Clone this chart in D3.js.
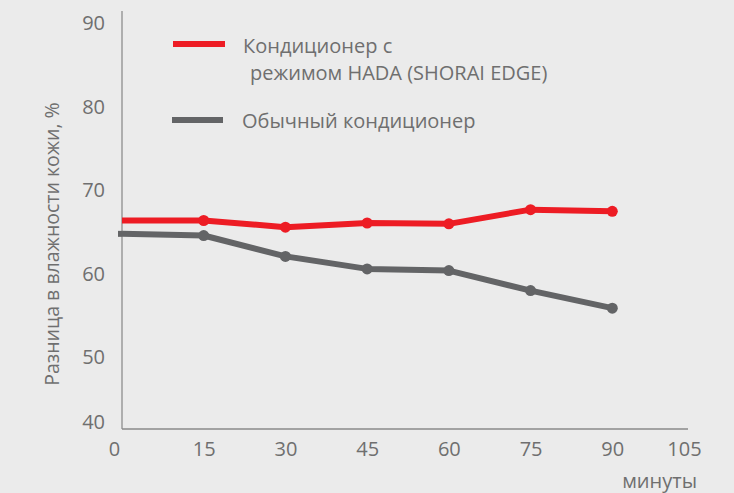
<!DOCTYPE html>
<html>
<head>
<meta charset="utf-8">
<script src="https://cdn.jsdelivr.net/npm/d3@7"></script>
<style>
  body { margin: 0; background: #ebebeb; }
  text { font-family: "Open Sans", sans-serif; fill: #6f6f6f; }
</style>
</head>
<body>
<div id="chart"></div>
<script>
var minutes = [0, 15, 30, 45, 60, 75, 90];
var hadaValues = [66.3, 66.3, 65.5, 66.0, 65.9, 67.6, 67.4];
var usualValues = [64.7, 64.5, 62.0, 60.5, 60.3, 57.9, 55.8];
var xTicks = [0, 15, 30, 45, 60, 75, 90, 105];
var yTicks = [40, 50, 60, 70, 80, 90];
var seriesNames = ["Кондиционер с", "режимом HADA (SHORAI EDGE)", "Обычный кондиционер"];

var width = 734,
  height = 493;

var svg = d3.select("#chart").append("svg")
  .attr("width", width)
  .attr("height", height);

var x = d3.scaleLinear().domain([0, 105]).range([122, 694]);
var y = d3.scaleLinear().domain([40, 90]).range([440, 22.7]);

// axes (no tick marks, just labels)
var yAxis = svg.append("g")
  .attr("transform", "translate(122,0)")
  .call(d3.axisLeft(y).tickValues(yTicks).tickSize(0).tickPadding(17));
yAxis.select(".domain").remove();
yAxis.selectAll("text")
  .style("font-size", "20px")
  .style("font-family", "'Open Sans', sans-serif")
  .attr("fill", "#6f6f6f")
  .attr("dy", "0.36em")
  .attr("transform", function(d) { return d === 40 ? "translate(0,-19)" : null; });

var xAxis = svg.append("g")
  .attr("transform", "translate(0,429)")
  .call(d3.axisBottom(x).tickValues(xTicks).tickSize(0).tickPadding(13));
xAxis.select(".domain").remove();
xAxis.selectAll("text")
  .style("font-size", "20px")
  .style("font-family", "'Open Sans', sans-serif")
  .attr("fill", "#6f6f6f")
  .attr("transform", function(d) {
    if (d === 0) return "translate(-8,0)";
    if (d === 105) return "translate(-10,0)";
    return null;
  });

svg.append("line")
  .attr("x1", 122).attr("x2", 122)
  .attr("y1", 11).attr("y2", 429)
  .attr("stroke", "#9a9a9a").attr("stroke-width", 1.5);
svg.append("line")
  .attr("x1", 122).attr("x2", 688)
  .attr("y1", 429).attr("y2", 429)
  .attr("stroke", "#8a8a8a").attr("stroke-width", 1.5);

svg.append("text")
  .attr("transform", "translate(59,244) rotate(-90)")
  .attr("text-anchor", "middle")
  .style("font-size", "19.5px")
  .text("Разница в влажности кожи, %");

svg.append("text")
  .attr("x", 697).attr("y", 488)
  .attr("text-anchor", "end")
  .style("font-size", "20px")
  .text("минуты");

var line = d3.line()
  .x(function(d) { return x(d[0]); })
  .y(function(d) { return y(d[1]); });

function drawSeries(values, color, startX) {
  var pts = minutes.map(function(m, i) { return [m, values[i]]; });
  svg.append("path")
    .datum(pts)
    .attr("fill", "none")
    .attr("stroke", color)
    .attr("stroke-width", 6)
    .attr("stroke-linejoin", "round")
    .attr("d", line);
  if (startX < x(0)) {
    svg.append("line")
      .attr("x1", startX).attr("x2", x(0))
      .attr("y1", y(values[0])).attr("y2", y(values[0]))
      .attr("stroke", color).attr("stroke-width", 6);
  }
  svg.selectAll(null)
    .data(pts.slice(1))
    .enter().append("circle")
    .attr("cx", function(d) { return x(d[0]); })
    .attr("cy", function(d) { return y(d[1]); })
    .attr("r", 5.5)
    .attr("fill", color);
}

drawSeries(usualValues, "#636466", 118);
drawSeries(hadaValues, "#ed1c24", 122);

// legend
svg.append("line")
  .attr("x1", 173).attr("x2", 225).attr("y1", 44).attr("y2", 44)
  .attr("stroke", "#ed1c24").attr("stroke-width", 6);
svg.append("line")
  .attr("x1", 172).attr("x2", 223).attr("y1", 120).attr("y2", 120)
  .attr("stroke", "#636466").attr("stroke-width", 6);

svg.append("text").attr("x", 243).attr("y", 53).style("font-size", "20px").text(seriesNames[0]);
svg.append("text").attr("x", 250).attr("y", 80).style("font-size", "20px").text(seriesNames[1]);
svg.append("text").attr("x", 242).attr("y", 128).style("font-size", "20px").text(seriesNames[2]);
</script>
</body>
</html>
